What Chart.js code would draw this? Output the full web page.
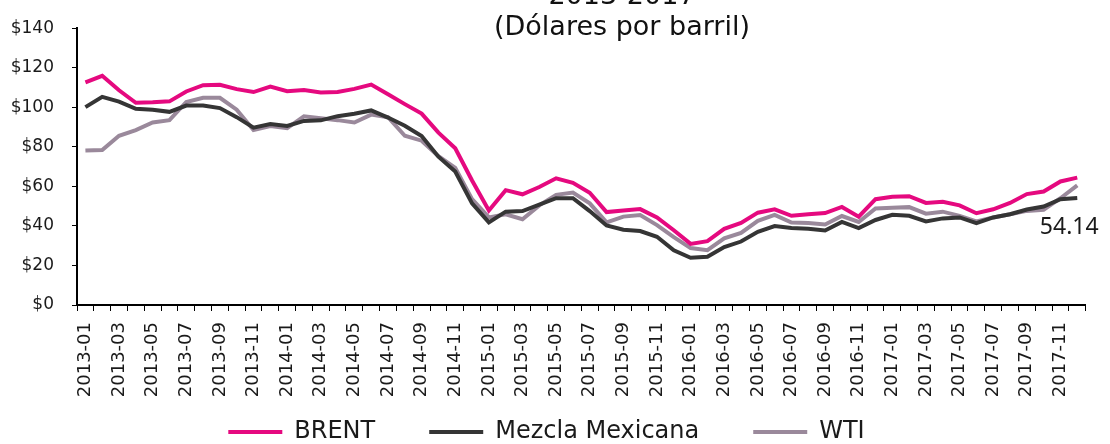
<!DOCTYPE html>
<html>
<head>
<meta charset="utf-8">
<script src="https://cdn.jsdelivr.net/npm/chart.js@4.4.1/dist/chart.umd.min.js"></script>
<style>
  html, body { margin: 0; padding: 0; background: #fff; overflow: hidden; }
  #wrap { position: relative; width: 1110px; height: 454px; }
</style>
</head>
<body>
<div id="wrap"><canvas id="grafico"></canvas></div>
<script>
// Datos mensuales 2013-2017 (dólares por barril)
const anios = ['2013', '2014', '2015', '2016', '2017'];
const meses = ['01', '02', '03', '04', '05', '06', '07', '08', '09', '10', '11', '12'];
const etiquetas = [];
anios.forEach(a => meses.forEach(m => etiquetas.push(a + '-' + m)));

const brent = [
  112.6, 115.9, 108.6, 102.3, 102.5, 103.0, 108.0, 111.2, 111.4, 109.2, 107.7, 110.5,
  108.1, 108.7, 107.5, 107.7, 109.3, 111.5, 106.6, 101.6, 96.8, 87.2, 79.3, 63.0,
  47.8, 58.1, 56.0, 59.7, 64.1, 61.8, 56.8, 47.0, 47.8, 48.5, 44.3, 37.8,
  30.9, 32.3, 38.5, 41.5, 46.7, 48.4, 45.1, 45.9, 46.5, 49.6, 44.7, 53.5,
  54.7, 55.0, 51.6, 52.2, 50.4, 46.4, 48.4, 51.6, 56.1, 57.4, 62.5, 64.4
];
const mezcla = [
  100.1, 105.3, 102.9, 99.2, 98.7, 97.7, 100.9, 100.9, 99.6, 95.0, 89.7, 91.5,
  90.6, 93.1, 93.4, 95.5, 96.7, 98.4, 94.8, 90.7, 85.5, 75.0, 67.5, 51.4,
  41.8, 47.2, 47.5, 50.8, 54.0, 54.0, 47.5, 40.2, 38.1, 37.4, 34.5, 27.7,
  23.9, 24.4, 29.3, 32.1, 37.0, 39.9, 38.9, 38.6, 37.7, 42.0, 38.9, 43.0,
  45.6, 45.1, 42.3, 43.8, 44.3, 41.4, 44.3, 45.9, 48.3, 49.8, 53.5, 54.14
];
const wti = [
  78.1, 78.4, 85.6, 88.5, 92.3, 93.5, 102.7, 104.8, 104.8, 98.8, 88.5, 90.5,
  89.4, 95.4, 94.4, 93.5, 92.3, 96.3, 95.0, 85.6, 83.1, 75.3, 69.3, 53.5,
  44.3, 45.9, 43.4, 50.4, 55.7, 56.9, 51.4, 41.8, 44.7, 45.5, 40.4, 34.3,
  28.8, 27.7, 33.7, 36.5, 42.6, 45.6, 41.7, 41.5, 40.7, 45.0, 42.0, 48.8,
  49.2, 49.5, 46.2, 47.2, 45.1, 42.3, 44.3, 45.9, 47.6, 48.2, 54.0, 60.5
];
const titulo = ['2013-2017', '(Dólares por barril)'];

const fuente = 'DejaVu Sans';
const colorTexto = '#1a1a1a';

// Título (la primera línea queda cortada arriba) y etiqueta del último dato
const extras = {
  id: 'extras',
  afterDraw(chart) {
    const ctx = chart.ctx;
    ctx.save();
    ctx.fillStyle = '#111';
    ctx.textAlign = 'center';
    ctx.textBaseline = 'alphabetic';
    ctx.font = '27px "' + fuente + '"';
    ctx.fillText(titulo[0], 622, 4);
    ctx.fillText(titulo[1], 622, 35);

    const meta = chart.getDatasetMeta(1);
    const ult = meta.data[meta.data.length - 1];
    ctx.font = '23px "Noto Sans"';
    ctx.textBaseline = 'middle';
    ctx.fillStyle = '#1a1a1a';
    ctx.fillText(mezcla[mezcla.length - 1].toFixed(2), ult.x - 8, ult.y + 29);
    ctx.restore();
  }
};

const ctx = document.getElementById('grafico').getContext('2d');
new Chart(ctx, {
  type: 'line',
  data: {
    labels: etiquetas,
    datasets: [
      { label: 'BRENT', data: brent, borderColor: '#E5097F', backgroundColor: '#E5097F' },
      { label: 'Mezcla Mexicana', data: mezcla, borderColor: '#353535', backgroundColor: '#353535' },
      { label: 'WTI', data: wti, borderColor: '#9A899B', backgroundColor: '#9A899B' }
    ]
  },
  options: {
    responsive: true,
    maintainAspectRatio: false,
    animation: false,
    elements: {
      line: { borderWidth: 4, tension: 0 },
      point: { radius: 0 }
    },
    layout: { padding: { top: 7, right: 17, left: 0, bottom: 0 } },
    scales: {
      x: {
        offset: true,
        grid: { offset: true, drawOnChartArea: false, tickLength: 6, color: '#000' },
        border: { color: '#000', width: 2 },
        ticks: {
          autoSkip: false,
          maxRotation: 90,
          minRotation: 90,
          padding: 11,
          color: colorTexto,
          font: { family: fuente, size: 18 },
          callback: (v, i) => (i % 2 === 0 ? etiquetas[i] : '')
        },
        afterFit: s => {
          s.height = 61;
          // las etiquetas giradas sobresalen de la caja del eje; no recortarlas
          s._computeLabelArea = () => undefined;
        }
      },
      y: {
        min: 0,
        max: 140,
        grid: { drawOnChartArea: false, tickLength: 5, color: '#000' },
        border: { color: '#000', width: 2 },
        ticks: {
          stepSize: 20,
          padding: 18,
          color: colorTexto,
          font: { family: fuente, size: 17 },
          callback: v => '$' + v
        },
        afterFit: s => { s.width = 77; }
      }
    },
    plugins: {
      legend: {
        position: 'bottom',
        labels: {
          boxWidth: 54,
          boxHeight: 4,
          padding: 54,
          color: colorTexto,
          font: { family: fuente, size: 24 },
          generateLabels: chart =>
            Chart.defaults.plugins.legend.labels.generateLabels(chart).map(l => ({ ...l, lineWidth: 0 }))
        }
      },
      tooltip: { enabled: false }
    }
  },
  plugins: [extras]
});
</script>
</body>
</html>
